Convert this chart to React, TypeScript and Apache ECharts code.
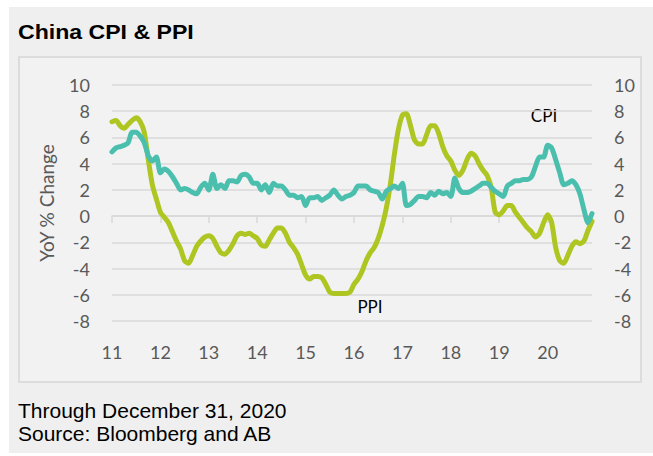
import React, { useEffect, useRef } from 'react';
import * as echarts from 'echarts';

const years = ['2011', '2012', '2013', '2014', '2015', '2016', '2017', '2018', '2019', '2020'];
const monthCodes = ['01', '02', '03', '04', '05', '06', '07', '08', '09', '10', '11', '12'];
const categories = years.flatMap((y) => monthCodes.map((m) => `${y}-${m}`));
const tickLabels = ['11', '12', '13', '14', '15', '16', '17', '18', '19', '20'];

const cpi = [
  4.9, 5.2, 5.3, 5.4, 5.6, 6.4, 6.4, 6.1, 5.6, 4.6, 4.2, 4.5,
  3.3, 3.6, 3.4, 3.0, 2.5, 2.0, 2.1, 2.0, 1.8, 1.7, 2.2, 2.5,
  2.0, 3.2, 2.1, 2.4, 2.1, 2.7, 2.7, 2.6, 3.1, 3.2, 3.0, 2.5,
  2.5, 2.0, 2.4, 1.8, 2.5, 2.3, 2.3, 2.0, 1.6, 1.6, 1.4, 1.5,
  0.8, 1.4, 1.4, 1.5, 1.2, 1.4, 1.6, 2.0, 1.6, 1.3, 1.5, 1.6,
  1.8, 2.3, 2.3, 2.3, 2.0, 1.9, 1.8, 1.3, 1.9, 2.1, 2.3, 2.1,
  2.5, 0.8, 0.9, 1.2, 1.5, 1.5, 1.4, 1.8, 1.6, 1.9, 1.7, 1.8,
  1.5, 2.9, 2.1, 1.8, 1.8, 1.9, 2.1, 2.3, 2.5, 2.5, 2.2, 1.9,
  1.7, 1.5, 2.3, 2.5, 2.7, 2.7, 2.8, 2.8, 3.0, 3.8, 4.5, 4.5,
  5.4, 5.2, 4.3, 3.3, 2.4, 2.5, 2.7, 2.4, 1.7, 0.5, -0.5, 0.2,
];

const ppi = [
  7.2, 7.3, 6.9, 6.7, 7.0, 7.3, 7.5, 7.2, 6.4, 4.3, 2.4, 1.3,
  0.3, -0.1, -0.5, -1.2, -1.9, -2.5, -3.4, -3.6, -3.0, -2.3, -1.9, -1.6,
  -1.5, -1.7, -2.3, -2.8, -2.9, -2.6, -2.1, -1.5, -1.3, -1.4, -1.3, -1.5,
  -1.7, -2.2, -2.3, -1.8, -1.3, -0.9, -0.9, -1.3, -2.0, -2.4, -2.9, -3.7,
  -4.5, -4.8, -4.6, -4.6, -4.7, -5.2, -5.8, -5.9, -5.9, -5.9, -5.9, -5.8,
  -5.2, -4.8, -4.2, -3.4, -2.8, -2.4, -1.7, -0.7, 0.6, 2.4, 4.7, 6.6,
  7.7, 7.8, 6.9, 5.8, 5.5, 5.5, 6.2, 6.9, 6.9, 6.3, 5.3, 4.6,
  4.2, 3.5, 3.1, 3.5, 4.3, 4.8, 4.6, 4.0, 3.5, 3.1, 2.2, 0.3,
  0.1, 0.4, 0.8, 0.8, 0.3, -0.1, -0.5, -0.9, -1.2, -1.6, -1.3, -0.5,
  0.1, -0.5, -2.4, -3.4, -3.6, -3.0, -2.3, -1.95, -2.1, -1.9, -1.1, -0.4,
];

const CPI_COLOR = '#4bbfae';
const PPI_COLOR = '#afc521';
const GRID_COLOR = '#d9d9d9';
const LABEL_COLOR = '#595959';
const AXIS_FONT = 'Lato';

export default function App() {
  const ref = useRef<HTMLDivElement>(null);

  useEffect(() => {
    if (!ref.current) return;
    const chart = echarts.init(ref.current, undefined, { renderer: 'svg' });
    const yearTick = (index: number) => index % 12 === 0;
    chart.setOption({
      animation: false,
      backgroundColor: 'transparent',
      grid: { left: 112, right: 61, top: 85, bottom: 135, containLabel: false },
      xAxis: [
        {
          type: 'category',
          data: categories,
          boundaryGap: false,
          position: 'bottom',
          axisLine: { show: true, onZero: true, lineStyle: { color: GRID_COLOR, width: 1.5 } },
          axisTick: { show: true, interval: yearTick, length: 7, lineStyle: { color: GRID_COLOR, width: 1.5 } },
          axisLabel: { show: false },
          splitLine: { show: false },
        },
        {
          type: 'category',
          data: categories,
          boundaryGap: false,
          position: 'bottom',
          axisLine: { show: false, onZero: false },
          axisTick: { show: false },
          splitLine: { show: false },
          axisLabel: {
            show: true,
            interval: yearTick,
            margin: 22,
            color: LABEL_COLOR,
            fontFamily: AXIS_FONT,
            fontSize: 18,
            formatter: (_v: string, index: number) => tickLabels[Math.floor(index / 12)],
          },
        },
      ],
      yAxis: [
        {
          type: 'value',
          min: -8,
          max: 10,
          interval: 2,
          position: 'left',
          name: 'YoY % Change',
          nameLocation: 'middle',
          nameGap: 56,
          nameTextStyle: { color: LABEL_COLOR, fontFamily: AXIS_FONT, fontSize: 19 },
          axisLine: { show: false },
          axisTick: { show: false },
          axisLabel: { color: LABEL_COLOR, fontFamily: AXIS_FONT, fontSize: 18, margin: 22 },
          splitLine: { show: true, lineStyle: { color: GRID_COLOR, width: 1.5 } },
        },
        {
          type: 'value',
          min: -8,
          max: 10,
          interval: 2,
          position: 'right',
          axisLine: { show: false },
          axisTick: { show: false },
          axisLabel: { color: LABEL_COLOR, fontFamily: AXIS_FONT, fontSize: 18, margin: 22 },
          splitLine: { show: false },
        },
      ],
      series: [
        {
          name: 'PPI',
          type: 'line',
          data: ppi,
          xAxisIndex: 0,
          yAxisIndex: 0,
          symbol: 'none',
          smooth: 0.25,
          lineStyle: { color: PPI_COLOR, width: 5, join: 'round', cap: 'round' },
          itemStyle: { color: PPI_COLOR },
        },
        {
          name: 'CPI',
          type: 'line',
          data: cpi,
          xAxisIndex: 0,
          yAxisIndex: 0,
          symbol: 'none',
          smooth: 0.25,
          lineStyle: { color: CPI_COLOR, width: 5, join: 'round', cap: 'round' },
          itemStyle: { color: CPI_COLOR },
        },
      ],
      graphic: [
        {
          type: 'text',
          x: 18,
          y: 32,
          scaleX: 1.1,
          style: { text: 'China CPI & PPI', font: 'bold 21px "Liberation Sans", Arial, sans-serif', fill: '#000', verticalAlign: 'middle', align: 'left' },
        },
        {
          type: 'text',
          x: 18,
          y: 410,
          style: { text: 'Through December 31, 2020', font: '21px "Liberation Sans", Arial, sans-serif', fill: '#000', verticalAlign: 'middle', align: 'left' },
        },
        {
          type: 'text',
          x: 18,
          y: 433,
          style: { text: 'Source: Bloomberg and AB', font: '21px "Liberation Sans", Arial, sans-serif', fill: '#000', verticalAlign: 'middle', align: 'left' },
        },
        {
          type: 'text',
          x: 544,
          y: 115,
          style: { text: 'CPI', font: '17px Lato', fill: '#000', verticalAlign: 'middle', align: 'center' },
        },
        {
          type: 'text',
          x: 370,
          y: 306,
          style: { text: 'PPI', font: '17px Lato', fill: '#000', verticalAlign: 'middle', align: 'center' },
        },
      ],
    });
    return () => chart.dispose();
  }, []);

  return (
    <div style={{ position: 'fixed', left: 0, top: 0, width: 653, height: 456, background: '#ffffff' }}>
      <div style={{ position: 'absolute', left: 9, top: 7, width: 644, height: 446, background: '#efefef' }} />
      <div
        style={{
          position: 'absolute',
          left: 18,
          top: 56,
          width: 624,
          height: 327,
          boxSizing: 'border-box',
          background: '#f2f2f2',
          border: '2px solid #dcdcdc',
        }}
      />
      <div ref={ref} style={{ position: 'absolute', left: 0, top: 0, width: 653, height: 456 }} />
    </div>
  );
}
